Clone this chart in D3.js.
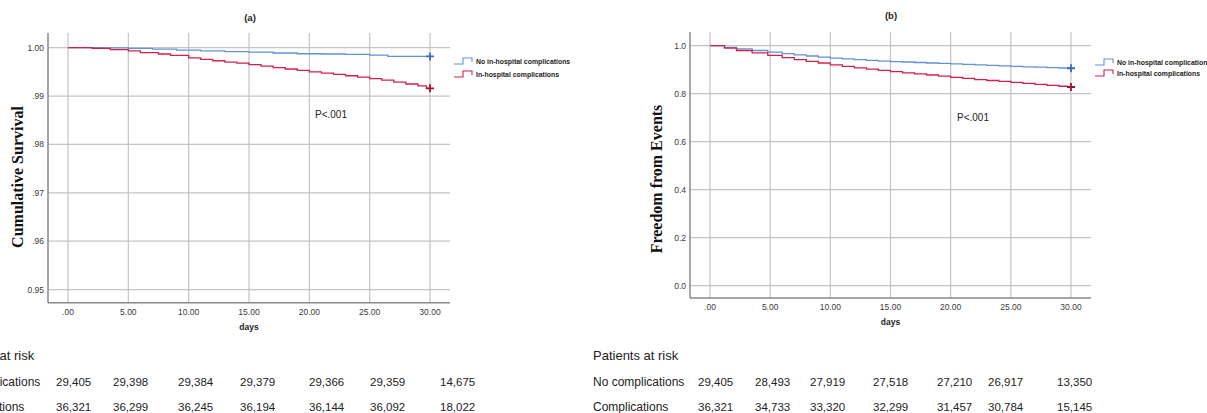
<!DOCTYPE html>
<html>
<head>
<meta charset="utf-8">
<script src="https://cdn.jsdelivr.net/npm/d3@7"></script>
<style>
  html, body { margin: 0; padding: 0; background: #fff; }
  svg { display: block; }
</style>
</head>
<body>
<svg id="chart" width="1207" height="413"></svg>
<script>
// ---------------- DATA ----------------
const dayTicks = [0, 5, 10, 15, 20, 25, 30];
const dayTickLabels = [".00", "5.00", "10.00", "15.00", "20.00", "25.00", "30.00"];

const yTicksA = [0.95, 0.96, 0.97, 0.98, 0.99, 1.00];
const yTickLabelsA = ["0.95", ".96", ".97", ".98", ".99", "1.00"];
const yTicksB = [0.0, 0.2, 0.4, 0.6, 0.8, 1.0];
const yTickLabelsB = ["0.0", "0.2", "0.4", "0.6", "0.8", "1.0"];

const seriesNames = ["No in-hospital complications", "In-hospital complications"];

// Panel (a): cumulative survival
const aNoTimes = [0, 3, 5, 7, 9, 11, 13, 15, 17, 19, 21, 23, 25, 26.5, 30];
const aNoSurv  = [1.0000, 0.99995, 0.99985, 0.9997, 0.9995, 0.99935, 0.9992, 0.9991, 0.9989, 0.99875, 0.9987, 0.9986, 0.99845, 0.9982, 0.9982];
const aCompTimes = [0, 2, 3.5, 5, 6, 7.5, 8.5, 10, 11, 12, 13, 14, 15, 16, 17, 18, 19, 20, 21, 22, 23, 24, 25, 26, 27, 28, 29, 29.7, 30];
const aCompSurv  = [1.0000, 0.99985, 0.9996, 0.99935, 0.9990, 0.9987, 0.9984, 0.9979, 0.9976, 0.9973, 0.9970, 0.9968, 0.9965, 0.9962, 0.9959, 0.9956, 0.9953, 0.9950, 0.99475, 0.9945, 0.9942, 0.9939, 0.9936, 0.9933, 0.9929, 0.9925, 0.9921, 0.9916, 0.9916];

// Panel (b): freedom from events
const bNoTimes = [0, 1.2, 2.2, 3.5, 4.8, 6, 7, 8, 9, 10, 11, 12, 13, 14, 15, 16, 17, 18, 19, 20, 21, 22, 23, 24, 25, 26, 27, 28, 29, 30];
const bNoSurv  = [1.000, 0.993, 0.987, 0.980, 0.973, 0.967, 0.962, 0.957, 0.952, 0.948, 0.945, 0.942, 0.939, 0.936, 0.934, 0.932, 0.930, 0.928, 0.926, 0.924, 0.922, 0.920, 0.918, 0.916, 0.914, 0.912, 0.911, 0.909, 0.907, 0.906];
const bCompTimes = [0, 1.2, 2.2, 3.5, 4.8, 6, 7, 8, 9, 10, 11, 12, 13, 14, 15, 16, 17, 18, 19, 20, 21, 22, 23, 24, 25, 26, 27, 28, 29, 29.7, 30];
const bCompSurv  = [1.000, 0.990, 0.980, 0.970, 0.960, 0.950, 0.942, 0.935, 0.928, 0.920, 0.914, 0.908, 0.902, 0.897, 0.892, 0.887, 0.883, 0.878, 0.873, 0.868, 0.864, 0.859, 0.855, 0.851, 0.847, 0.843, 0.839, 0.835, 0.831, 0.828, 0.828];

// Patients at risk tables
const riskRowLabels = ["No complications", "Complications"];
const riskANo   = ["29,405", "29,398", "29,384", "29,379", "29,366", "29,359", "14,675"];
const riskAComp = ["36,321", "36,299", "36,245", "36,194", "36,144", "36,092", "18,022"];
const riskBNo   = ["29,405", "28,493", "27,919", "27,518", "27,210", "26,917", "13,350"];
const riskBComp = ["36,321", "34,733", "33,320", "32,299", "31,457", "30,784", "15,145"];

// ---------------- DRAW ----------------
const svg = d3.select("#chart");
svg.append("rect").attr("width", 1207).attr("height", 413).attr("fill", "#fff");

const BLUE = "#5f93d6", BLUE_MARK = "#3c6db5";
const RED = "#d2204c", RED_MARK = "#a5122f";
const GRID = "#c4c4c4", AXIS = "#888", TICK_TXT = "#3a3a3a";

function panel(cfg) {
  const g = svg.append("g");
  const x = d3.scaleLinear().domain([0, 30]).range([cfg.x0, cfg.x30]);
  const y = d3.scaleLinear().domain(cfg.yDomain).range(cfg.yRange);

  g.selectAll(".hg").data(cfg.yTicks).enter().append("line")
    .attr("x1", cfg.left).attr("x2", cfg.right)
    .attr("y1", d => y(d)).attr("y2", d => y(d))
    .attr("stroke", GRID).attr("stroke-width", 1.2);
  g.selectAll(".vg").data(dayTicks).enter().append("line")
    .attr("x1", d => x(d)).attr("x2", d => x(d))
    .attr("y1", cfg.top).attr("y2", cfg.bottom)
    .attr("stroke", GRID).attr("stroke-width", 1.2);

  g.append("line").attr("x1", cfg.left).attr("x2", cfg.left).attr("y1", cfg.top).attr("y2", cfg.bottom)
    .attr("stroke", AXIS).attr("stroke-width", 1.5);
  g.append("line").attr("x1", cfg.left).attr("x2", cfg.right).attr("y1", cfg.bottom).attr("y2", cfg.bottom)
    .attr("stroke", AXIS).attr("stroke-width", 1.5);

  g.selectAll(".yt").data(cfg.yTicks).enter().append("text")
    .attr("x", cfg.left - 4).attr("y", d => y(d) + 3)
    .attr("text-anchor", "end")
    .attr("font-family", "Liberation Sans, Arial, sans-serif").attr("font-size", 8.5)
    .attr("fill", TICK_TXT)
    .text((d, i) => cfg.yTickLabels[i]);
  g.selectAll(".xt").data(dayTicks).enter().append("text")
    .attr("x", d => x(d)).attr("y", cfg.bottom + 12)
    .attr("text-anchor", "middle")
    .attr("font-family", "Liberation Sans, Arial, sans-serif").attr("font-size", 8.5)
    .attr("fill", TICK_TXT)
    .text((d, i) => dayTickLabels[i]);

  g.append("text").attr("x", (cfg.left + cfg.right) / 2).attr("y", cfg.bottom + 27)
    .attr("text-anchor", "middle").attr("font-family", "Liberation Sans, Arial, sans-serif")
    .attr("font-size", 8.5).attr("font-weight", "bold").attr("fill", "#222").text("days");

  g.append("text").attr("x", cfg.titleX).attr("y", cfg.titleY)
    .attr("text-anchor", "middle").attr("font-family", "Liberation Sans, Arial, sans-serif")
    .attr("font-size", 9.5).attr("font-weight", "bold").attr("fill", "#222").text(cfg.title);

  g.append("text")
    .attr("transform", `translate(${cfg.yTitleX},${cfg.yTitleY}) rotate(-90)`)
    .attr("text-anchor", "middle").attr("font-family", "Liberation Serif, Times New Roman, serif")
    .attr("font-size", 16).attr("font-weight", "bold").attr("fill", "#111").text(cfg.yTitle);

  const line = d3.line().x(d => x(d[0])).y(d => y(d[1])).curve(d3.curveStepAfter);
  cfg.series.forEach(s => {
    const pts = s.t.map((t, i) => [t, s.s[i]]);
    g.append("path").attr("d", line(pts)).attr("fill", "none")
      .attr("stroke", s.color).attr("stroke-width", 1.3);
    const last = pts[pts.length - 1];
    const cx = x(last[0]), cy = y(last[1]);
    g.append("path").attr("d", `M${cx - 4},${cy}H${cx + 4}M${cx},${cy - 4}V${cy + 4}`)
      .attr("stroke", s.mark).attr("stroke-width", 1.8);
  });

  g.append("text").attr("x", cfg.pX).attr("y", cfg.pY)
    .attr("font-family", "Liberation Sans, Arial, sans-serif").attr("font-size", 10)
    .attr("fill", "#222").text("P<.001");

  cfg.series.forEach((s, i) => {
    const ly = cfg.legY + i * cfg.legDy;
    const lx = cfg.legX;
    g.append("path").attr("d", `M${lx},${ly + 3}H${lx + 9}V${ly - 3}H${lx + 18}V${ly + 1}`)
      .attr("fill", "none").attr("stroke", s.color).attr("stroke-width", 1.1);
    g.append("text").attr("x", lx + 22).attr("y", ly + 2.5)
      .attr("font-family", "Liberation Sans Narrow, Arial Narrow, Liberation Sans, sans-serif")
      .attr("font-size", 6.9).attr("font-weight", "bold").attr("fill", "#222").text(seriesNames[i]);
  });

  const tf = "Liberation Sans, Arial, sans-serif";
  g.append("text").attr("x", cfg.riskLabelX).attr("y", 360)
    .attr("font-family", tf).attr("font-size", 13).attr("fill", "#222").text("Patients at risk");
  [cfg.riskNo, cfg.riskComp].forEach((row, r) => {
    const ry = 386 + r * 24.5;
    g.append("text").attr("x", cfg.riskLabelX).attr("y", ry)
      .attr("font-family", tf).attr("font-size", 12).attr("fill", "#222").text(riskRowLabels[r]);
    g.selectAll(null).data(row).enter().append("text")
      .attr("x", (d, j) => cfg.riskCols[j]).attr("y", ry)
      .attr("font-family", tf).attr("font-size", 11.5).attr("fill", "#222").text(d => d);
  });
}

panel({
  x0: 68, x30: 430, left: 48, right: 450, top: 33, bottom: 302.7,
  yDomain: [0.95, 1.00], yRange: [289.6, 47.7],
  yTicks: yTicksA, yTickLabels: yTickLabelsA,
  title: "(a)", titleX: 250, titleY: 21,
  yTitle: "Cumulative Survival", yTitleX: 23, yTitleY: 177,
  series: [
    { t: aNoTimes, s: aNoSurv, color: BLUE, mark: BLUE_MARK },
    { t: aCompTimes, s: aCompSurv, color: RED, mark: RED_MARK }
  ],
  pX: 315, pY: 118,
  legX: 454, legY: 61, legDy: 13,
  riskLabelX: -51, riskCols: [56, 113, 178, 240, 309, 370, 440],
  riskNo: riskANo, riskComp: riskAComp
});

panel({
  x0: 710, x30: 1071, left: 690, right: 1091, top: 32, bottom: 298,
  yDomain: [0, 1], yRange: [285.7, 45.7],
  yTicks: yTicksB, yTickLabels: yTickLabelsB,
  title: "(b)", titleX: 891, titleY: 19,
  yTitle: "Freedom from Events", yTitleX: 662, yTitleY: 179,
  series: [
    { t: bNoTimes, s: bNoSurv, color: BLUE, mark: BLUE_MARK },
    { t: bCompTimes, s: bCompSurv, color: RED, mark: RED_MARK }
  ],
  pX: 957, pY: 121,
  legX: 1095, legY: 62, legDy: 11,
  riskLabelX: 593, riskCols: [698, 755, 810, 873, 937, 988, 1057],
  riskNo: riskBNo, riskComp: riskBComp
});
</script>
</body>
</html>
